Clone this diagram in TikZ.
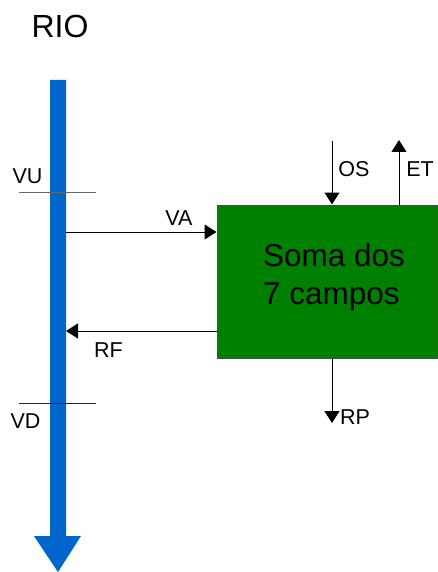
\documentclass[tikz,border=0pt]{standalone}
\usepackage{fontspec}
\setmainfont{Liberation Sans}
\usetikzlibrary{arrows.meta}
\definecolor{rioblue}{RGB}{0,102,204}
\definecolor{somagreen}{RGB}{0,128,0}
\tikzset{
  lbl/.style={anchor=base,inner sep=0pt,font=\fontsize{21.5}{24}\selectfont},
  flow/.style={-{Triangle[length=12pt,width=15pt]},line width=1pt},
}
\begin{document}
\begin{tikzpicture}[x=1pt,y=-1pt]
\useasboundingbox (0,0) rectangle (438,572);
% rio
\fill[rioblue] (50,80) -- (66,80) -- (66,536) -- (81,536) -- (58,572) -- (34,536) -- (50,536) -- cycle;
\node[anchor=base,inner sep=0pt,font=\fontsize{32}{36}\selectfont] (rio) at (60,38) {RIO};
\draw[black!60,line width=1pt] (19,192) -- (96,192);
\draw[black!85,line width=0.8pt] (19,403) -- (96,403);
\node[lbl] (vu) at (27.5,183) {VU};
\node[lbl] (vd) at (25.5,428) {VD};
\coordinate (va-in) at (66,232);
\coordinate (rf-out) at (66,331);
% caixa
\node[draw=black!70,fill=somagreen,line width=1pt,minimum width=220pt,minimum height=153pt,inner sep=0pt] (soma) at (327,281.5) {};
\node[align=left,inner sep=0pt,font=\fontsize{31.5}{38}\selectfont] (somatxt) at (334,277) {Soma dos\\7 campos};
\coordinate (os-in) at (332,141);
\coordinate (et-out) at (399,140);
\coordinate (rp-out) at (332,423);
\draw[flow] (va-in) -- (soma.west |- va-in);
\draw[flow] (soma.west |- rf-out) -- (rf-out);
\draw[flow] (os-in) -- (soma.north -| os-in);
\draw[flow] (soma.north -| et-out) -- (et-out);
\draw[flow] (soma.south -| rp-out) -- (rp-out);
\node[lbl] (va) at (179,225) {VA};
\node[lbl] (rf) at (108.5,357) {RF};
\node[lbl] (os) at (354,176) {OS};
\node[lbl] (et) at (420,176) {ET};
\node[lbl] (rp) at (355,424) {RP};
\end{tikzpicture}
\end{document}
